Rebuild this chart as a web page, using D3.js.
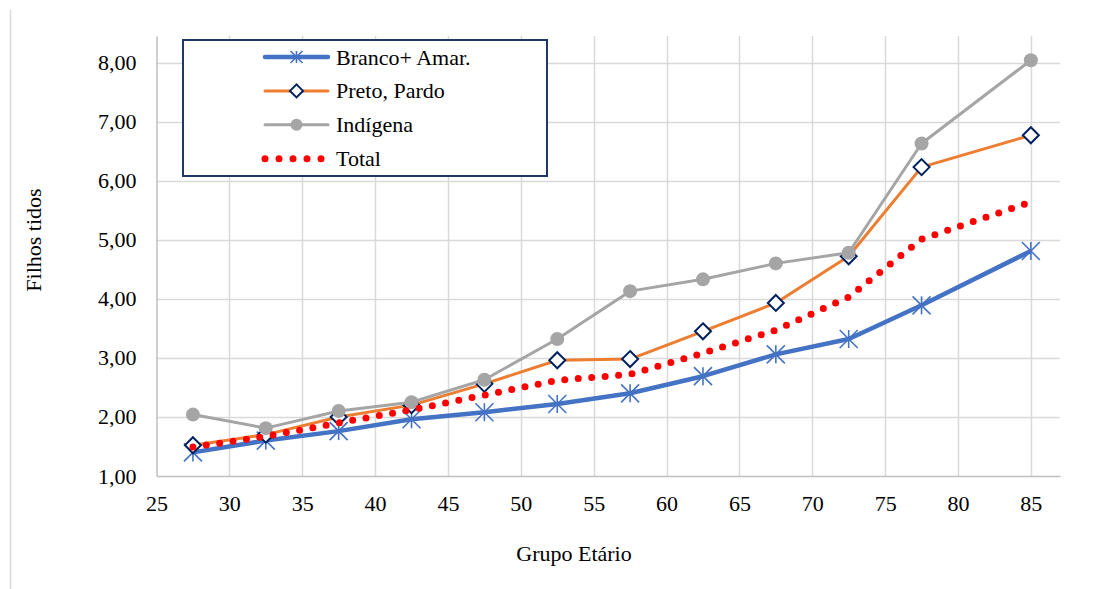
<!DOCTYPE html>
<html>
<head>
<meta charset="utf-8">
<script src="https://cdn.jsdelivr.net/npm/d3@7"></script>
<style>
  body { margin: 0; background: #fff; }
  svg text { font-family: "Liberation Serif", "Times New Roman", serif; }
</style>
</head>
<body>
<div id="chart"></div>
<script>
// age group midpoints
const ages = [27.5, 32.5, 37.5, 42.5, 47.5, 52.5, 57.5, 62.5, 67.5, 72.5, 77.5, 85];
const branco = [1.40, 1.60, 1.76, 1.96, 2.08, 2.22, 2.40, 2.69, 3.06, 3.32, 3.89, 4.81];
const preto = [1.52, 1.70, 2.00, 2.20, 2.56, 2.96, 2.98, 3.45, 3.93, 4.72, 6.23, 6.77];
const indigena = [2.04, 1.81, 2.10, 2.25, 2.63, 3.32, 4.13, 4.33, 4.60, 4.78, 6.63, 8.04];
const total = [1.49, 1.67, 1.90, 2.12, 2.37, 2.62, 2.72, 3.08, 3.47, 4.03, 5.01, 5.64];
const xTicks = [25, 30, 35, 40, 45, 50, 55, 60, 65, 70, 75, 80, 85];
const yTicks = [1, 2, 3, 4, 5, 6, 7, 8];

const width = 1094, height = 589;
const FONT = '"Liberation Serif", "Times New Roman", serif';
const FS = 22;
const svg = d3.select('#chart').append('svg')
  .attr('width', width)
  .attr('height', height);

const x = d3.scaleLinear().domain([25, 87]).range([156.5, 1060]);
const y = d3.scaleLinear().domain([1, 8.45]).range([476, 36]);

// outer border line on the left
svg.append('line')
  .attr('x1', 10.5).attr('x2', 10.5)
  .attr('y1', 10).attr('y2', 589)
  .attr('stroke', '#d9d9d9').attr('stroke-width', 1.5);

// grid
const grid = svg.append('g');
grid.selectAll('line.h').data(yTicks.slice(1)).enter().append('line')
  .attr('x1', x(25)).attr('x2', x(87))
  .attr('y1', d => Math.round(y(d)) + 0.5).attr('y2', d => Math.round(y(d)) + 0.5)
  .attr('stroke', '#d9d9d9').attr('stroke-width', 1.5);
grid.selectAll('line.v').data(xTicks.slice(1)).enter().append('line')
  .attr('x1', d => Math.round(x(d)) + 0.5).attr('x2', d => Math.round(x(d)) + 0.5)
  .attr('y1', y(8.45)).attr('y2', y(1))
  .attr('stroke', '#d9d9d9').attr('stroke-width', 1.5);

// axes
const xAxis = svg.append('g')
  .attr('transform', `translate(0,${y(1)})`)
  .call(d3.axisBottom(x).tickValues(xTicks).tickSize(0).tickPadding(19.5).tickFormat(d3.format('d')));
xAxis.select('.domain').attr('stroke', '#bfbfbf').attr('stroke-width', 1.5);

const yAxis = svg.append('g')
  .attr('transform', `translate(${x(25)},0)`)
  .call(d3.axisLeft(y).tickValues(yTicks).tickSize(0).tickPadding(20)
    .tickFormat(d => d3.format('.2f')(d).replace('.', ',')));
yAxis.select('.domain').attr('stroke', '#bfbfbf').attr('stroke-width', 1.5);

svg.selectAll('.tick text')
  .attr('font-family', FONT)
  .attr('font-size', FS)
  .attr('fill', '#000');

// axis titles
svg.append('text')
  .attr('x', 574).attr('y', 561)
  .attr('text-anchor', 'middle')
  .attr('font-family', FONT)
  .attr('font-size', FS)
  .text('Grupo Etário');
svg.append('text')
  .attr('transform', 'translate(41,240) rotate(-90)')
  .attr('text-anchor', 'middle')
  .attr('font-family', FONT)
  .attr('font-size', FS)
  .text('Filhos tidos');

const line = d3.line().x((d, i) => x(ages[i])).y(d => y(d));

// markers
function asterisk(g, cx, cy, s, color) {
  const p = g.append('g').attr('transform', `translate(${cx},${cy})`)
    .attr('stroke', color).attr('stroke-width', 1.6);
  p.append('line').attr('x1', 0).attr('x2', 0).attr('y1', -s).attr('y2', s);
  p.append('line').attr('x1', -s).attr('x2', s).attr('y1', -s).attr('y2', s);
  p.append('line').attr('x1', -s).attr('x2', s).attr('y1', s).attr('y2', -s);
}
function diamond(g, cx, cy, s) {
  g.append('path')
    .attr('d', `M${cx},${cy - s}L${cx + s},${cy}L${cx},${cy + s}L${cx - s},${cy}Z`)
    .attr('fill', '#fff').attr('stroke', '#002060').attr('stroke-width', 2);
}
function dot(g, cx, cy, r, color) {
  g.append('circle').attr('cx', cx).attr('cy', cy).attr('r', r).attr('fill', color);
}

// Branco + Amar.
const gB = svg.append('g');
gB.append('path').datum(branco).attr('d', line)
  .attr('fill', 'none').attr('stroke', '#4472C4').attr('stroke-width', 4.5)
  .attr('stroke-linejoin', 'round');
branco.forEach((v, i) => asterisk(gB, x(ages[i]), y(v), 9, '#4472C4'));

// Preto, Pardo
const gP = svg.append('g');
gP.append('path').datum(preto).attr('d', line)
  .attr('fill', 'none').attr('stroke', '#ED7D31').attr('stroke-width', 3)
  .attr('stroke-linejoin', 'round');
preto.forEach((v, i) => diamond(gP, x(ages[i]), y(v), 8));

// Indígena
const gI = svg.append('g');
gI.append('path').datum(indigena).attr('d', line)
  .attr('fill', 'none').attr('stroke', '#A5A5A5').attr('stroke-width', 3)
  .attr('stroke-linejoin', 'round');
indigena.forEach((v, i) => dot(gI, x(ages[i]), y(v), 7, '#A5A5A5'));

// Total
svg.append('path').datum(total).attr('d', line)
  .attr('fill', 'none').attr('stroke', '#FF0000').attr('stroke-width', 7)
  .attr('stroke-linecap', 'round').attr('stroke-dasharray', '0 13.5');

// legend
const lg = svg.append('g');
lg.append('rect')
  .attr('x', 183).attr('y', 40).attr('width', 364).attr('height', 136)
  .attr('fill', '#fff').attr('stroke', '#1F3864').attr('stroke-width', 2);
const items = [
  { name: 'Branco+ Amar.', color: '#4472C4', w: 4.5, mark: 'ast' },
  { name: 'Preto, Pardo', color: '#ED7D31', w: 3, mark: 'dia' },
  { name: 'Indígena', color: '#A5A5A5', w: 3, mark: 'dot' },
  { name: 'Total', color: '#FF0000', w: 7, mark: 'dash' }
];
items.forEach((it, i) => {
  const ly = 57 + i * 33.9;
  const l = lg.append('line')
    .attr('x1', 265).attr('x2', 328).attr('y1', ly).attr('y2', ly)
    .attr('stroke', it.color).attr('stroke-width', it.w).attr('stroke-linecap', 'round');
  if (it.mark === 'dash') l.attr('stroke-dasharray', '0 14');
  if (it.mark === 'ast') asterisk(lg, 296.5, ly, 6, it.color);
  if (it.mark === 'dia') diamond(lg, 296.5, ly, 6.5);
  if (it.mark === 'dot') dot(lg, 296.5, ly, 6, it.color);
  lg.append('text')
    .attr('x', 336).attr('y', ly + 7.5)
    .attr('font-family', FONT)
    .attr('font-size', FS)
    .text(it.name);
});
</script>
</body>
</html>
